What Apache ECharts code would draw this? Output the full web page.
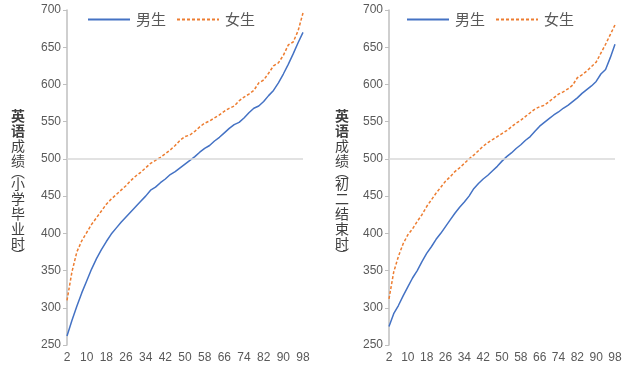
<!DOCTYPE html>
<html>
<head>
<meta charset="utf-8">
<script src="https://cdn.jsdelivr.net/npm/echarts@6/dist/echarts.min.js"></script>
<style>
html,body{margin:0;padding:0;background:#fff;}
#chart{width:634px;height:370px;}
</style>
</head>
<body>
<div id="chart"></div>
<script>
// Percentile categories (2..98, step 2)
const categories = [2,4,6,8,10,12,14,16,18,20,22,24,26,28,30,32,34,36,38,40,42,44,46,48,50,52,54,56,58,60,62,64,66,68,70,72,74,76,78,80,82,84,86,88,90,92,94,96,98];

// 小学毕业时
const leftMale   = [262,283,302,320,336,352,366,378,389,399,407,415,422,429,436,443,450,458,462,468,473,479,483,488,493,498,503,509,514,518,524,529,535,541,546,549,555,562,568,571,577,585,592,602,614,627,641,656,670];
const leftFemale = [310,348,375,390,401,412,421,430,439,446,452,458,464,471,477,482,488,494,498,502,507,512,518,525,530,532,537,543,548,551,555,559,564,568,571,578,583,587,592,602,606,615,625,629,639,653,657,672,696];

// 初二结束时
const rightMale   = [275,292,303,316,328,340,350,362,373,382,392,400,409,418,427,435,442,450,460,467,473,478,484,490,497,503,508,514,519,525,530,537,544,549,554,559,563,568,572,577,582,588,593,598,604,614,620,636,654];
const rightFemale = [312,348,369,386,398,406,416,425,436,445,454,462,470,476,483,488,494,500,505,511,517,522,526,530,534,538,543,548,552,557,562,567,570,572,577,582,587,590,594,599,609,613,618,624,630,642,654,667,680];

const seriesNames = ['男生','女生'];
const yTicks = {min:250, max:700, interval:50};
const leftTitle  = ['英','语','成','绩','︵','小','学','毕','业','时','︶'];
const rightTitle = ['英','语','成','绩','︵','初','二','结','束','时','︶'];

const BLUE = '#4472C4', ORANGE = '#ED7D31', GRAY = '#595959';
const numFont = 'Liberation Sans, Arial, sans-serif';
const cjkFont = 'Noto Sans CJK SC, sans-serif';

function titleText(chars){
  return chars.map((c,i)=>{
    if (c==='︵' || c==='︶') return '{p|'+c+'}';
    if (i<2) return '{b|'+c+'}';
    return '{n|'+c+'}';
  }).join('\n');
}
const titleRich = {
  b:{fontFamily:cjkFont,fontSize:14,fontWeight:'bold',lineHeight:15,fill:'#404040',color:'#404040'},
  n:{fontFamily:cjkFont,fontSize:14,lineHeight:15,fill:'#404040',color:'#404040'},
  p:{fontFamily:cjkFont,fontSize:14,lineHeight:8,fill:'#404040',color:'#404040'}
};

function xAxis(gi){
  return {
    type:'category', gridIndex:gi, data:categories, boundaryGap:false,
    axisLine:{show:false}, axisTick:{show:false},
    axisLabel:{interval:3, color:GRAY, fontSize:12, fontFamily:numFont, margin:7}
  };
}
function yAxis(gi){
  return {
    type:'value', gridIndex:gi, min:yTicks.min, max:yTicks.max, interval:yTicks.interval,
    splitLine:{show:false},
    axisLine:{show:true, lineStyle:{color:'#bfbfbf', width:1.5}},
    axisTick:{show:true, length:4, lineStyle:{color:'#bfbfbf'}},
    axisLabel:{color:GRAY, fontSize:12, fontFamily:numFont, margin:6}
  };
}
function lineSeries(name, data, gi, color, dashed, withMark){
  const s = {
    name, type:'line', xAxisIndex:gi, yAxisIndex:gi, data,
    symbol:'none', smooth:false, animation:false,
    lineStyle:{color, width:1.5, type: dashed ? [3,2] : 'solid'},
    itemStyle:{color},
    z: dashed ? 3 : 4
  };
  if (withMark){
    s.markLine = {
      silent:true, symbol:'none', animation:false,
      label:{show:false},
      lineStyle:{color:'#d9d9d9', width:1.5, type:'solid'},
      data:[{yAxis:500}]
    };
  }
  return s;
}
function legend(left){
  return {
    left, top:7, itemWidth:42, itemHeight:10, itemGap:10,
    data:seriesNames,
    itemStyle:{color:'rgba(0,0,0,0)', borderColor:'rgba(0,0,0,0)', borderWidth:0},
    textStyle:{color:GRAY, fontSize:15, fontFamily:cjkFont, padding:[0,0,0,1]}
  };
}

const chart = echarts.init(document.getElementById('chart'), null, {renderer:'canvas'});
chart.setOption({
  animation:false,
  backgroundColor:'#fff',
  grid:[
    {left:67, top:10, width:236, height:335},
    {left:389, top:10, width:226, height:335}
  ],
  legend:[legend(82), legend(401)],
  xAxis:[xAxis(0), xAxis(1)],
  yAxis:[yAxis(0), yAxis(1)],
  series:[
    lineSeries(seriesNames[0], leftMale, 0, BLUE, false, true),
    lineSeries(seriesNames[1], leftFemale, 0, ORANGE, true, false),
    lineSeries(seriesNames[0], rightMale, 1, BLUE, false, true),
    lineSeries(seriesNames[1], rightFemale, 1, ORANGE, true, false)
  ],
  graphic:[
    {type:'text', left:11, top:'middle', z:10,
     style:{text:titleText(leftTitle), rich:titleRich, textAlign:'center', fill:'#404040'}},
    {type:'text', left:335, top:'middle', z:10,
     style:{text:titleText(rightTitle), rich:titleRich, textAlign:'center', fill:'#404040'}}
  ]
});
</script>
</body>
</html>
